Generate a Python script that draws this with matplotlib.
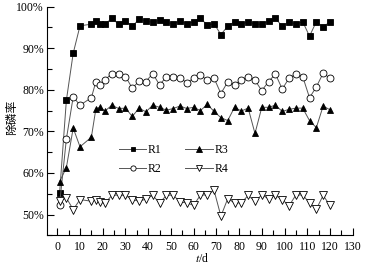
import matplotlib
matplotlib.use("Agg")
import matplotlib.pyplot as plt
from matplotlib.ticker import MultipleLocator, FuncFormatter

plt.rcParams['font.family'] = ['Liberation Serif', 'Noto Sans CJK SC']
plt.rcParams['mathtext.fontset'] = 'stix'

days = [1, 4, 7, 10, 15, 17, 19, 21, 24, 27, 30, 33, 36, 39, 42, 45, 48, 51, 54,
        57, 60, 63, 66, 69, 72, 75, 78, 81, 84, 87, 90, 93, 96, 99, 102, 105,
        108, 111, 114, 117, 120]

r1 = [55.1, 77.5, 88.8, 95.4, 95.8, 96.6, 95.8, 95.8, 97.2, 95.8, 96.6, 95.3,
      97.0, 96.6, 96.2, 96.8, 96.2, 95.9, 96.6, 95.8, 96.4, 97.2, 95.6, 95.9,
      93.3, 95.3, 96.4, 95.8, 96.4, 95.8, 95.8, 96.6, 97.2, 95.3, 96.4, 95.8,
      96.4, 92.9, 96.4, 95.1, 96.4]

r2 = [52.4, 68.2, 78.3, 76.3, 78.1, 82.0, 81.1, 82.4, 83.9, 83.9, 83.2, 80.4,
      82.1, 82.0, 83.9, 81.2, 83.1, 83.1, 82.9, 81.7, 82.8, 83.6, 82.3, 82.8,
      79.1, 81.9, 81.2, 82.4, 83.2, 82.3, 79.8, 82.0, 83.8, 80.2, 82.8, 83.8,
      83.2, 78.1, 80.7, 84.0, 82.8]

r3 = [57.9, 61.3, 70.8, 66.3, 68.6, 75.5, 75.8, 74.9, 76.3, 75.5, 75.6, 73.6,
      75.6, 74.7, 76.3, 75.8, 75.1, 75.5, 76.1, 75.5, 75.8, 75.0, 76.5, 74.8,
      73.3, 72.6, 75.8, 74.9, 75.6, 69.5, 75.8, 75.8, 76.3, 74.8, 75.3, 75.6,
      75.6, 72.6, 70.9, 76.1, 75.2]

r4 = [53.2, 54.0, 51.2, 53.6, 53.2, 53.6, 52.9, 52.7, 54.6, 54.7, 54.6, 53.6,
      53.2, 53.7, 54.6, 52.8, 54.6, 54.7, 53.0, 52.8, 52.2, 54.7, 54.7, 55.8,
      49.6, 53.8, 52.8, 52.8, 54.6, 53.2, 54.7, 53.8, 54.6, 53.6, 52.1, 54.7,
      54.7, 52.8, 51.3, 54.6, 52.2]

labels = ['R1', 'R2', 'R3', 'R4']

fig = plt.figure(figsize=(3.67, 2.66), dpi=100)
ax = fig.add_axes([0.127, 0.1154, 0.834, 0.8594])

lc = '#555555'
lw = 0.7
h1, = ax.plot(days, r1, color=lc, lw=lw, marker='s', ms=4.2, mfc='black', mec='black', mew=0.6, label=labels[0])
h2, = ax.plot(days, r2, color=lc, lw=lw, marker='o', ms=5, mfc='white', mec='black', mew=0.6, label=labels[1])
h3, = ax.plot(days, r3, color=lc, lw=lw, marker='^', ms=5, mfc='black', mec='black', mew=0.6, label=labels[2])
h4, = ax.plot(days, r4, color=lc, lw=lw, marker='v', ms=5.5, mfc='white', mec='black', mew=0.6, label=labels[3])

ax.set_xlim(-4.7, 130)
ax.set_ylim(45, 100)
ax.xaxis.set_major_locator(MultipleLocator(10))
ax.xaxis.set_minor_locator(MultipleLocator(5))
ax.yaxis.set_major_locator(MultipleLocator(10))
ax.yaxis.set_minor_locator(MultipleLocator(5))
ax.yaxis.set_major_formatter(FuncFormatter(lambda v, p: f'{int(round(v))}%'))

for s in ['top', 'right']:
    ax.spines[s].set_visible(False)
for s in ['left', 'bottom']:
    ax.spines[s].set_linewidth(0.8)

ax.tick_params(axis='both', which='major', direction='in', length=5, width=0.8, labelsize=8.5, pad=2)
ax.tick_params(axis='both', which='minor', direction='in', length=3.5, width=0.8)
ax.tick_params(axis='x', which='major', pad=4)

leg = ax.legend(handles=[h1, h2, h3, h4], ncol=2, frameon=False, fontsize=8.5,
                loc='center', bbox_to_anchor=(0.473, 0.401), bbox_transform=fig.transFigure,
                handlelength=2.3, handletextpad=0.15, columnspacing=2.0, labelspacing=0.6,
                markerscale=0.75)

fig.text(11.7 / 367, 1 - 117 / 266, '除磷率', rotation=90, ha='center', va='center', fontsize=8.5)
fig.text(202 / 367, 1 - 259 / 266, r'$t$/d', ha='center', va='center', fontsize=8.5)

fig.savefig('out.png', dpi=100)
